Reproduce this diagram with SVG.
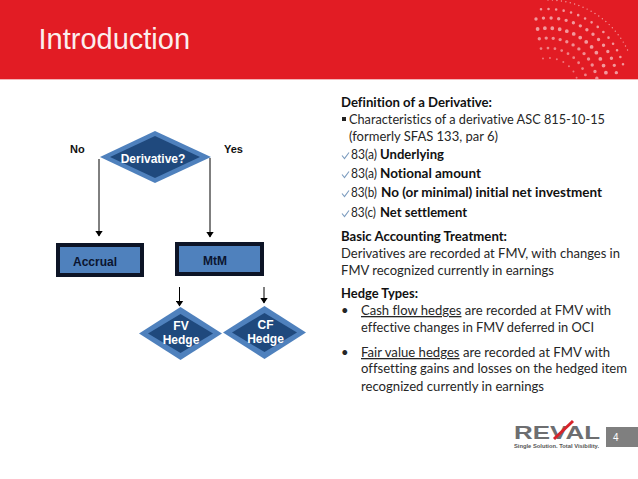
<svg xmlns="http://www.w3.org/2000/svg" width="638" height="479" viewBox="0 0 638 479">
<style>
.sans{font-family:"Liberation Sans",Arial,sans-serif}
.b{font-family:Lato,"Open Sans",sans-serif;font-size:13px;fill:#262626;font-variant-ligatures:none}
.bb{font-weight:700;fill:#111}
.lbl{font-family:"Liberation Sans",Arial,sans-serif;font-size:12px;font-weight:700}
.sm{font-size:11px}
.w{fill:#fff;text-anchor:middle}
.do{fill:#4F81BD}
.di{fill:#1F497D}
.r{fill:#4F81BD;stroke:#0d1426;stroke-width:4}
.c{stroke:#000;stroke-width:1;fill:none;marker-end:url(#ah)}
.dots{fill:none;stroke:#fff;stroke-linecap:round}
.chk{fill:none;stroke:#7c9cbf;stroke-width:1.1}
</style>
<defs>
<marker id="ah" markerUnits="userSpaceOnUse" markerWidth="6" markerHeight="8" refX="5.500" refY="4" orient="auto"><path d="M0 0L6 4L0 8z" fill="#000"/></marker>
<clipPath id="hd"><rect x="0" y="0" width="638" height="79"/></clipPath>
</defs>
<rect x="0" y="0" width="638" height="479" fill="#fff"/>
<g id="header">
<rect x="0" y="0" width="638" height="79" fill="#E21C24"/>
<g clip-path="url(#hd)" class="dots">
<path d="M548 0A88 88 0 0 1 628 51" stroke-width="1.4" stroke-dasharray="0 4.500" opacity=".55"/>
<path d="M541 9.300A79 79 0 0 1 624 67.600" stroke-width="2.600" stroke-dasharray="0 7.600" opacity=".55"/>
<path d="M536 19A70 70 0 0 1 616.500 73.400" stroke-width="3.400" stroke-dasharray="0 7.600" opacity=".55"/>
<path d="M537.600 29A60 60 0 0 1 607 77.600" stroke-width="3.800" stroke-dasharray="0 7.400" opacity=".55"/>
<path d="M539.300 38.800A50 50 0 0 1 597 79" stroke-width="3.400" stroke-dasharray="0 7" opacity=".5"/>
<path d="M541 48.600A40 40 0 0 1 587 81" stroke-width="2.800" stroke-dasharray="0 7" opacity=".45"/>
<path d="M543 58.500A30 30 0 0 1 578 83" stroke-width="2" stroke-dasharray="0 7" opacity=".4"/>
</g>
<rect x="0" y="79" width="638" height="1" fill="#f3b5b7"/>
<text class="sans" x="38.500" y="49" font-size="29" fill="#fbeeee">Introduction</text>
</g>
<g id="connectors">
<path class="c" d="M99 159V236"/>
<path class="c" d="M210 158V237"/>
<path class="c" d="M179.500 287V306"/>
<path class="c" d="M264 287V303"/>
</g>
<g id="node-no"><text class="lbl sm" x="70" y="153" fill="#111">No</text></g>
<g id="node-yes"><text class="lbl sm" x="224" y="153" fill="#111">Yes</text></g>
<g id="node-derivative">
<path class="do" d="M155 131L211 157L155 183L100 157z"/>
<path class="di" d="M155 136L200 157L155 178L110 157z"/>
<text class="lbl w" x="153" y="163">Derivative?</text>
</g>
<g id="node-accrual">
<rect class="r" x="58" y="245" width="84" height="30"/>
<text class="lbl" x="73" y="266" fill="#0b1530">Accrual</text>
</g>
<g id="node-mtm">
<rect class="r" x="177" y="244" width="85" height="30"/>
<text class="lbl" x="215" y="265" text-anchor="middle" fill="#0b1530">MtM</text>
</g>
<g id="node-fv">
<path class="do" d="M180.500 307L222 333.500L180.500 360L139 333.500z"/>
<path class="di" d="M180.500 314L213 333.500L180.500 353L148 333.500z"/>
<text class="lbl w" x="181" y="330">FV</text>
<text class="lbl w" x="181" y="344">Hedge</text>
</g>
<g id="node-cf">
<path class="do" d="M264.500 306L306 332.500L264.500 359L223 332.500z"/>
<path class="di" d="M264.500 313L297 332.500L264.500 352L232 332.500z"/>
<text class="lbl w" x="265.500" y="329">CF</text>
<text class="lbl w" x="265.500" y="343">Hedge</text>
</g>
<g id="text-definition" >
<text class="b bb" x="341" y="107" textLength="151" lengthAdjust="spacingAndGlyphs">Definition of a Derivative:</text>
<rect x="342" y="117" width="4" height="4" fill="#222"/>
<text class="b" x="349" y="124" textLength="256" lengthAdjust="spacingAndGlyphs">Characteristics of a derivative ASC 815-10-15</text>
<text class="b" x="349" y="141" textLength="149" lengthAdjust="spacingAndGlyphs">(formerly SFAS 133, par 6)</text>
<path class="chk" d="M342 155.500L344.500 158.500L349 152.500"/>
<text class="b" x="351" y="159" textLength="26" lengthAdjust="spacingAndGlyphs">83(a)</text>
<text class="b bb" x="380" y="159" textLength="64" lengthAdjust="spacingAndGlyphs">Underlying</text>
<path class="chk" d="M342 174.500L344.500 177.500L349 171.500"/>
<text class="b" x="351" y="178" textLength="26" lengthAdjust="spacingAndGlyphs">83(a)</text>
<text class="b bb" x="380" y="178" textLength="101" lengthAdjust="spacingAndGlyphs">Notional amount</text>
<path class="chk" d="M342 193.500L344.500 196.500L349 190.500"/>
<text class="b" x="351" y="197" textLength="26" lengthAdjust="spacingAndGlyphs">83(b)</text>
<text class="b bb" x="381" y="197" textLength="221" lengthAdjust="spacingAndGlyphs">No (or minimal) initial net investment</text>
<path class="chk" d="M342 213.500L344.500 216.500L349 210.500"/>
<text class="b" x="351" y="217" textLength="25" lengthAdjust="spacingAndGlyphs">83(c)</text>
<text class="b bb" x="380" y="217" textLength="87" lengthAdjust="spacingAndGlyphs">Net settlement</text>
</g>
<g id="text-treatment">
<text class="b bb" x="341" y="241" textLength="166" lengthAdjust="spacingAndGlyphs">Basic Accounting Treatment:</text>
<text class="b" x="341" y="258" textLength="279" lengthAdjust="spacingAndGlyphs">Derivatives are recorded at FMV, with changes in</text>
<text class="b" x="341" y="275" textLength="213" lengthAdjust="spacingAndGlyphs">FMV recognized currently in earnings</text>
</g>
<g id="text-hedges">
<text class="b bb" x="341" y="298" textLength="77" lengthAdjust="spacingAndGlyphs">Hedge Types:</text>
<text class="b" x="341" y="315">•</text>
<text class="b" x="361" y="315" textLength="250" lengthAdjust="spacingAndGlyphs"><tspan text-decoration="underline">Cash flow hedges</tspan> are recorded at FMV with</text>
<text class="b" x="361" y="332" textLength="233" lengthAdjust="spacingAndGlyphs">effective changes in FMV deferred in OCI</text>
<text class="b" x="341" y="357">•</text>
<text class="b" x="361" y="357" textLength="249" lengthAdjust="spacingAndGlyphs"><tspan text-decoration="underline">Fair value hedges</tspan> are recorded at FMV with</text>
<text class="b" x="361" y="373" textLength="266" lengthAdjust="spacingAndGlyphs">offsetting gains and losses on the hedged item</text>
<text class="b" x="361" y="391" textLength="183" lengthAdjust="spacingAndGlyphs">recognized currently in earnings</text>
</g>
<g id="logo">
<text class="sans" x="514" y="439" font-size="18" font-weight="700" fill="#6d6e70" textLength="86" lengthAdjust="spacingAndGlyphs">REVAL</text>
<path d="M554 439L573 421" fill="none" stroke="#d8232a" stroke-width="3"/>
<text class="sans" x="514" y="447.500" font-size="6" font-weight="700" fill="#555" textLength="85" lengthAdjust="spacingAndGlyphs">Single Solution. Total Visibility.</text>
</g>
<g id="page-number">
<rect x="606" y="427" width="32" height="20" fill="#7f7f7f"/>
<text class="sans" x="613" y="441" font-size="10" fill="#fff">4</text>
</g>
</svg>
